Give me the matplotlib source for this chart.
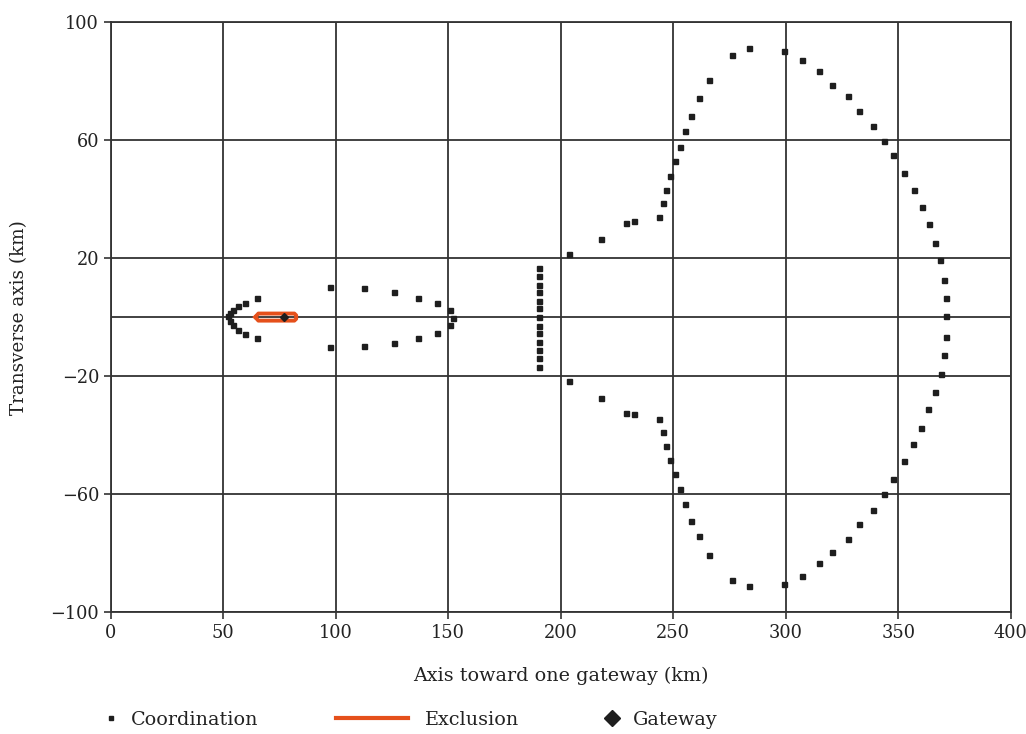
import matplotlib
matplotlib.use("Agg")
import matplotlib.pyplot as plt
from matplotlib.lines import Line2D

# ---- data (km) ----
# Coordination contour: small ellipse near gateway
coord_small_x = [64.8, 59.6, 56.7, 54.5, 52.9, 52.2, 52.9, 54.5, 56.7, 59.6, 64.8]
coord_small_y = [6.4, 4.9, 3.8, 2.5, 1.4, 0.2, -1.3, -2.8, -4.5, -5.6, -7.1]

# Coordination contour: middle ellipse
coord_mid_x = [97.5, 112.6, 126.0, 136.6, 145.0, 150.9, 152.3, 150.9, 145.0, 136.6, 126.0, 112.6, 97.5]
coord_mid_y = [10.2, 9.8, 8.5, 6.4, 4.7, 2.4, -0.3, -2.7, -5.4, -7.1, -8.8, -9.8, -10.2]

# Coordination contour: vertical segment near 190 km
coord_vert_x = [190.5] * 13
coord_vert_y = [16.5, 14.0, 11.0, 8.5, 5.5, 3.0, 0.0, -3.0, -5.5, -8.5, -11.0, -14.0, -17.0]

# Coordination contour: large outer contour
coord_big_x = [203.8, 218.0, 229.0, 232.6, 243.5, 245.3, 247.0, 248.8, 250.6, 252.9, 255.3,
               257.8, 261.3, 266.1, 276.1, 283.8, 299.1, 307.1, 314.6, 320.8, 327.6, 332.8,
               338.9, 343.7, 347.6, 352.7, 356.9, 360.4, 363.6, 366.4, 368.7, 370.3, 371.2,
               371.5, 371.2, 370.3, 369.0, 366.4, 363.4, 360.1, 356.6, 352.7, 347.6, 343.7,
               338.9, 332.8, 327.6, 320.8, 314.6, 307.4, 299.1, 283.8, 276.1, 266.1, 261.3,
               257.8, 255.3, 252.9, 250.6, 248.8, 247.0, 245.3, 243.8, 232.6, 229.0, 218.0,
               203.8]
coord_big_y = [21.4, 26.4, 32.0, 32.7, 33.8, 38.5, 43.2, 47.8, 52.8, 57.5, 62.9,
               68.0, 74.1, 80.3, 88.9, 91.1, 90.3, 87.2, 83.5, 78.8, 74.8, 70.0,
               64.9, 59.8, 54.9, 48.9, 43.2, 37.4, 31.7, 25.1, 19.4, 12.5, 6.3,
               0.2, -6.8, -12.8, -19.2, -25.5, -31.1, -37.7, -43.0, -48.9, -54.9, -59.9,
               -65.3, -70.1, -75.1, -79.7, -83.4, -87.6, -90.3, -91.3, -89.2, -80.6, -74.1,
               -69.0, -63.3, -58.1, -53.1, -48.6, -43.6, -39.1, -34.4, -32.8, -32.6, -27.4,
               -21.7]

# Exclusion contour
excl_x = [64.2, 65.6, 81.6, 82.4, 82.4, 81.6, 65.6, 64.2]
excl_y = [0.0, 1.2, 1.2, 0.6, -0.6, -1.2, -1.2, 0.0]

# Gateway
gw_x = [77.0]
gw_y = [0.0]

x_ticks = [0, 50, 100, 150, 200, 250, 300, 350, 400]
y_ticks = [-100, -60, -20, 20, 60, 100]
y_tick_labels = ["\u2212100", "\u221260", "\u221220", "20", "60", "100"]

# ---- figure ----
plt.rcParams['font.family'] = ['DejaVu Serif']
fig = plt.figure(figsize=(10.26, 7.34), dpi=100)
ax = fig.add_axes([0.108, 0.166, 0.877, 0.804])

grid_c = '#333333'
ax.set_xlim(0, 400)
ax.set_ylim(-100, 100)
ax.set_xticks(x_ticks)
ax.set_yticks(y_ticks)
ax.set_yticklabels(y_tick_labels)
ax.grid(True, color=grid_c, linewidth=1.3)
ax.axhline(0, color=grid_c, linewidth=1.3, zorder=1)
ax.set_axisbelow(True)
for s in ax.spines.values():
    s.set_color(grid_c)
    s.set_linewidth(1.3)
ax.tick_params(axis='both', direction='out', length=5, width=1.2, color=grid_c,
               labelsize=12.8, labelcolor='#222222')

mk = dict(linestyle='none', marker='s', markersize=3.6, color='#1e1e1e')
h_coord, = ax.plot(coord_small_x, coord_small_y, **mk)
ax.plot(coord_mid_x, coord_mid_y, **mk)
ax.plot(coord_vert_x, coord_vert_y, **mk)
ax.plot(coord_big_x, coord_big_y, **mk)

h_excl, = ax.plot(excl_x, excl_y, color='#e5501b', linewidth=2.8, zorder=3)
h_gw, = ax.plot(gw_x, gw_y, linestyle='none', marker='D', markersize=4, color='#1e1e1e', zorder=4)

ax.set_xlabel("Axis toward one gateway (km)", fontsize=13.8, color='#222222', labelpad=18)
ax.set_ylabel("Transverse axis (km)", fontsize=13.2, color='#222222', labelpad=16)

# ---- legend (three separate entries along the bottom) ----
leg_y = 0.019
fs = 13.8
l1 = fig.legend([Line2D([], [], linestyle='none', marker='s', markersize=3, color='#1e1e1e')],
                ["Coordination"], loc='center left', bbox_to_anchor=(0.100, leg_y),
                frameon=False, fontsize=fs, handlelength=0.9, handletextpad=0.55,
                borderaxespad=0, borderpad=0)
l2 = fig.legend([Line2D([], [], color='#e5501b', linewidth=3)],
                ["Exclusion"], loc='center left', bbox_to_anchor=(0.327, leg_y),
                frameon=False, fontsize=fs, handlelength=3.8, handletextpad=0.85,
                borderaxespad=0, borderpad=0)
l3 = fig.legend([Line2D([], [], linestyle='none', marker='D', markersize=8, color='#1e1e1e')],
                ["Gateway"], loc='center left', bbox_to_anchor=(0.586, leg_y),
                frameon=False, fontsize=fs, handlelength=1.1, handletextpad=0.55,
                borderaxespad=0, borderpad=0)
for lg in (l1, l2, l3):
    for t in lg.get_texts():
        t.set_color('#222222')

fig.savefig("out.png", dpi=100)
